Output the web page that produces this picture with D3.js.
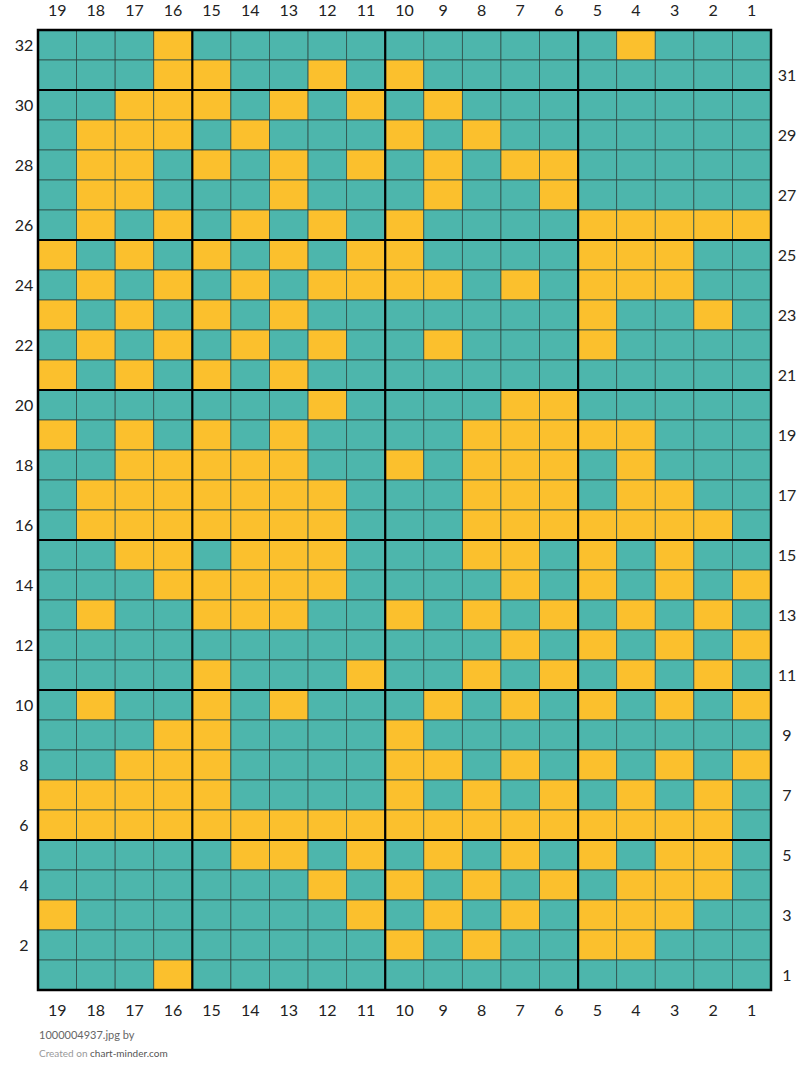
<!DOCTYPE html>
<html><head><meta charset="utf-8">
<script src="https://cdn.jsdelivr.net/npm/d3@7"></script>
<style>body{margin:0;background:#fff;font-family:Lato,sans-serif}</style>
</head><body><svg id="c" width="810" height="1083"></svg>
<script>
const columns = [19,18,17,16,15,14,13,12,11,10,9,8,7,6,5,4,3,2,1];
const rowLabels = d3.range(32,0,-1);
// row patterns, top (32) to bottom (1); Y = yellow, . = teal; columns 19..1
const rowPatterns = [
"...Y....."+"....."+".Y...",
"...YY..Y."+"Y...."+".....",
"..YYY.Y.Y"+".Y..."+".....",
".YYY.Y..."+"Y.Y.."+".....",
".YY.Y.Y.Y"+".Y.YY"+".....",
".YY...Y.."+".Y..Y"+".....",
".Y.Y.Y.Y."+"Y...."+"YYYYY",
"Y.Y.Y.Y.Y"+"Y...."+"YYY..",
".Y.Y.Y.YY"+"YY.Y."+"YYY..",
"Y.Y.Y.Y.."+"....."+"Y..Y.",
".Y.Y.Y.Y."+".Y..."+"Y....",
"Y.Y.Y.Y.."+"....."+".....",
".......Y."+"...YY"+".....",
"Y.Y.Y.Y.."+"..YYY"+"YY...",
"..YYYYY.."+"Y.YYY"+".Y...",
".YYYYYYY."+"..YYY"+".YY..",
".YYYYYYY."+"..YYY"+"YYYY.",
"..YY.YYY."+"..YY."+"Y.Y..",
"...YYYYY."+"...Y."+"Y.Y.Y",
".Y..YYY.."+"Y.Y.Y"+".Y.Y.",
"........."+"...Y."+"Y.Y.Y",
"....Y...Y"+"..Y.Y"+".Y.Y.",
".Y..Y.Y.."+".Y.Y."+"Y.Y.Y",
"...YY...."+"Y...."+".....",
"..YYY...."+"YY.Y."+"Y.Y.Y",
"YYYYY...."+"Y.Y.Y"+".Y.Y.",
"YYYYYYYYY"+"YYYYY"+"YYYY.",
".....YY.Y"+".Y.Y."+"Y.YY.",
".......Y."+"Y.Y.Y"+".YYY.",
"Y.......Y"+".Y.Y."+"YYY..",
"........."+"Y.Y.."+"YY...",
"...Y....."+"....."+"....."
];
const colors = {Y:"#fbc02d", ".":"#4db6ac"};
const svg = d3.select("#c");
const x = d3.scaleBand().domain(columns).range([38,771]);
const y = d3.scaleBand().domain(rowLabels).range([30,990]);
const cells = [];
rowPatterns.forEach((p,i)=>{for(let j=0;j<19;j++)cells.push({r:rowLabels[i],c:columns[j],v:p[j]});});
svg.append("g").selectAll("rect").data(cells).join("rect")
 .attr("x",d=>x(d.c)).attr("y",d=>y(d.r)).attr("width",x.bandwidth()).attr("height",y.bandwidth())
 .attr("fill",d=>colors[d.v]).attr("stroke","#2f4f4a").attr("stroke-width",0.8);
const g = svg.append("g").attr("stroke","#000").attr("stroke-width",2.2);
[16,11,6].forEach(c=>g.append("line").attr("x1",x(c)+x.bandwidth()).attr("x2",x(c)+x.bandwidth()).attr("y1",30).attr("y2",990));
[30,25,20,15,10,5].forEach(r=>g.append("line").attr("y1",y(r)).attr("y2",y(r)).attr("x1",38).attr("x2",771));
svg.append("rect").attr("x",38).attr("y",30).attr("width",733).attr("height",960).attr("fill","none").attr("stroke","#000").attr("stroke-width",2.5);
const t = svg.append("g").attr("font-size",16).attr("fill","#222").attr("text-anchor","middle");
columns.forEach(c=>{
 t.append("text").attr("x",x(c)+x.bandwidth()/2).attr("y",16).text(c);
 t.append("text").attr("x",x(c)+x.bandwidth()/2).attr("y",1016).text(c);
});
rowLabels.forEach(r=>{
 if(r%2===0) t.append("text").attr("x",24).attr("y",y(r)+y.bandwidth()/2+6).text(r);
 else t.append("text").attr("x",787).attr("y",y(r)+y.bandwidth()/2+6).text(r);
});
svg.append("text").attr("x",39).attr("y",1039).attr("font-size",11).attr("fill","#666").text("1000004937.jpg by");
const f=svg.append("text").attr("x",39).attr("y",1057).attr("font-size",10).attr("fill","#999").text("Created on ");
f.append("tspan").attr("fill","#555").text("chart-minder.com");
</script></body></html>
